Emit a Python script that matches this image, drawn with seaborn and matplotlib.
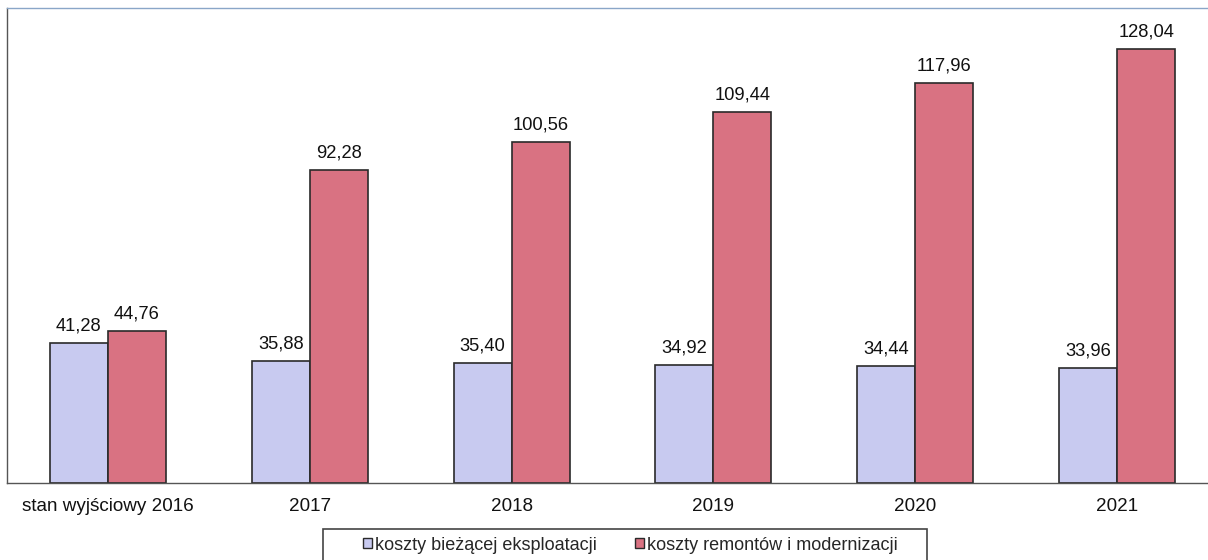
import matplotlib
matplotlib.use("Agg")
import matplotlib.pyplot as plt
import seaborn as sns
import pandas as pd
import numpy as np
from matplotlib.patches import Patch, Rectangle

categories = ["stan wyjściowy 2016", "2017", "2018", "2019", "2020", "2021"]
series_names = ["koszty bieżącej eksploatacji", "koszty remontów i modernizacji"]
biezace = [41.28, 35.88, 35.40, 34.92, 34.44, 33.96]
remonty = [44.76, 92.28, 100.56, 109.44, 117.96, 128.04]
labels_b = ["41,28", "35,88", "35,40", "34,92", "34,44", "33,96"]
labels_r = ["44,76", "92,28", "100,56", "109,44", "117,96", "128,04"]

colors = ["#c8caf0", "#d97282"]

sns.set_style("white")
plt.rcParams['font.family'] = ['Liberation Sans', 'DejaVu Sans']

df = pd.DataFrame({
    "kategoria": categories * 2,
    "seria": [series_names[0]] * 6 + [series_names[1]] * 6,
    "wartosc": biezace + remonty,
})

W, H = 1208, 560
fig = plt.figure(figsize=(W / 100, H / 100), dpi=100)
ax = fig.add_axes([7 / W, (H - 483) / H, 1211 / W, (483 - 8) / H])

sns.barplot(data=df, x="kategoria", y="wartosc", hue="seria", order=categories,
            hue_order=series_names, palette=colors, width=0.575, gap=0,
            edgecolor="#2a2a2a", linewidth=1.2, saturation=1, legend=False, ax=ax)

for cont, labs in zip(ax.containers, [labels_b, labels_r]):
    ax.bar_label(cont, labels=labs, padding=6, fontsize=13.2, color="#111111")

ax.set_ylim(0, 140)
ax.set_xlim(-0.5, 5.5)
ax.set_yticks([])
ax.set_xlabel("")
ax.set_ylabel("")
ax.tick_params(axis="x", which="major", length=0, pad=11, labelsize=13.6, labelcolor="#111111")
ax.set_xticks(np.arange(-0.5, 6, 1), minor=True)
ax.tick_params(axis="x", which="minor", length=5, width=1, color="#555555", direction="out")

for s in ["left", "bottom"]:
    ax.spines[s].set_color("#555555")
    ax.spines[s].set_linewidth(1.0)
ax.spines["top"].set_color("#8aa6c8")
ax.spines["top"].set_linewidth(1.0)
ax.spines["right"].set_visible(False)

# legend box
fig.patches.append(Rectangle((323 / W, 1 - 566 / H), (927 - 323) / W, (566 - 529) / H,
                             transform=fig.transFigure, facecolor="white",
                             edgecolor="#444444", linewidth=1.2, zorder=1))
handles = [Patch(facecolor=c, edgecolor="#2a2a2a", linewidth=1.0) for c in colors]
leg = fig.legend(handles, series_names, loc="center left", bbox_to_anchor=(363 / W, 1 - 545 / H),
                 ncol=2, fontsize=13, frameon=False,
                 handlelength=0.52, handleheight=0.52, handletextpad=0.15, columnspacing=2.1,
                 borderpad=0, borderaxespad=0)
leg.set_zorder(2)

fig.savefig("out.png", dpi=100)
